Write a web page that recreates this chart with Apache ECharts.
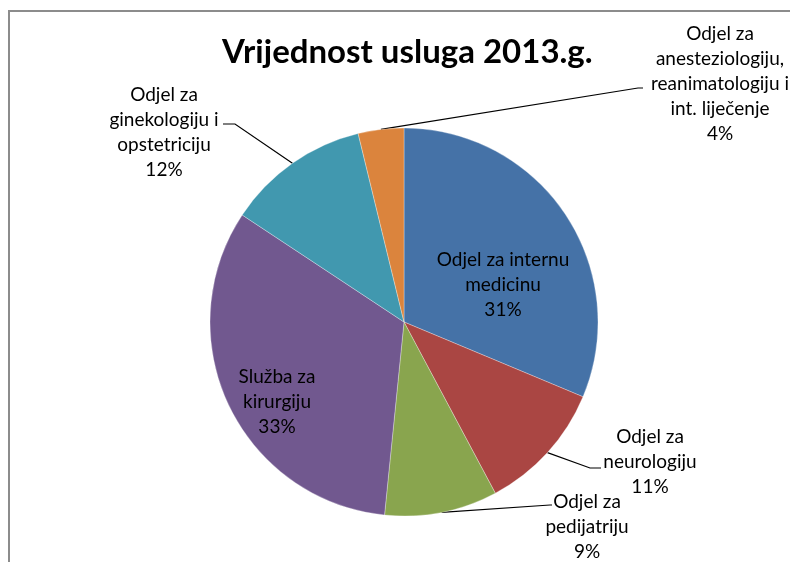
<!DOCTYPE html>
<html>
<head>
<meta charset="utf-8">
<script src="https://cdn.jsdelivr.net/npm/echarts@6/dist/echarts.min.js"></script>
<style>
  html, body { margin: 0; padding: 0; background: #fff; overflow: hidden; }
  #chart { width: 790px; height: 562px; }
  /* okvir grafikona (lijevi i gornji rub) */
  #frame { position: absolute; left: 8px; top: 10px; width: 900px; height: 700px;
           border: 2px solid #8c8c8c; box-sizing: border-box; pointer-events: none; }
</style>
</head>
<body>
<div id="chart"></div>
<div id="frame"></div>
<script>
  // odjeli, redom kako idu u krugu (od vrha, u smjeru kazaljke)
  var odjeli = [
    'Odjel za internu medicinu',
    'Odjel za neurologiju',
    'Odjel za pedijatriju',
    'Služba za kirurgiju',
    'Odjel za ginekologiju i opstetriciju',
    'Odjel za anesteziologiju, reanimatologiju i int. liječenje'
  ];
  // udio u vrijednosti usluga (%)
  var udio = [31.3, 10.9, 9.4, 32.7, 11.9, 3.8];

  // prelamanje natpisa kao u originalu
  var natpisi = [
    'Odjel za internu\nmedicinu',
    'Odjel za\nneurologiju',
    'Odjel za\npedijatriju',
    'Služba za\nkirurgiju',
    'Odjel za\nginekologiju i\nopstetriciju',
    'Odjel za\nanesteziologiju,\nreanimatologiju i\nint. liječenje'
  ];

  var boje = ['#4572A7', '#AA4643', '#89A54E', '#71588F', '#4198AF', '#DB843D'];

  // polozaj natpisa (sredina bloka) i lom linije [lomX, lomY, krajX, krajY]
  var labelPos = [[503, 285], [650, 462], [587, 527], [277, 402], [164, 132], [720, 84]];
  var linePts = [null, [590, 468, 601, 468], [550, 505, 552, 505], null, [235, 124, 223, 124], [638, 88, 643, 88]];

  var seriesData = [];
  for (var i = 0; i < odjeli.length; i++) {
    var inside = linePts[i] === null;
    seriesData.push({
      name: odjeli[i],
      value: udio[i],
      itemStyle: { color: boje[i] },
      label: { position: inside ? 'inside' : 'outside' },
      labelLine: { show: !inside }
    });
  }

  var chart = echarts.init(document.getElementById('chart'));
  chart.setOption({
    animation: false,
    title: {
      text: 'Vrijednost usluga 2013.g.',
      left: 217,
      top: 31,
      textStyle: { fontFamily: 'Lato', fontWeight: 'bold', fontSize: 33, color: '#000' }
    },
    series: [
      {
        type: 'pie',
        center: [404, 322],
        radius: 194,
        startAngle: 90,
        clockwise: true,
        avoidLabelOverlap: false,
        data: seriesData,
        itemStyle: { borderColor: 'rgba(255,255,255,0.5)', borderWidth: 0.6 },
        label: {
          fontFamily: 'Lato',
          fontSize: 19,
          lineHeight: 25,
          color: '#000',
          align: 'center',
          formatter: function (p) {
            return natpisi[p.dataIndex] + '\n' + Math.round(p.percent) + '%';
          }
        },
        labelLine: { lineStyle: { color: '#000', width: 1.2 }, smooth: false },
        labelLayout: function (p) {
          var pos = labelPos[p.dataIndex];
          var out = { x: pos[0], y: pos[1], align: 'center', verticalAlign: 'middle' };
          var lp = linePts[p.dataIndex];
          if (lp && p.labelLinePoints) {
            out.labelLinePoints = [p.labelLinePoints[0], [lp[0], lp[1]], [lp[2], lp[3]]];
          }
          return out;
        }
      }
    ]
  });
</script>
</body>
</html>
